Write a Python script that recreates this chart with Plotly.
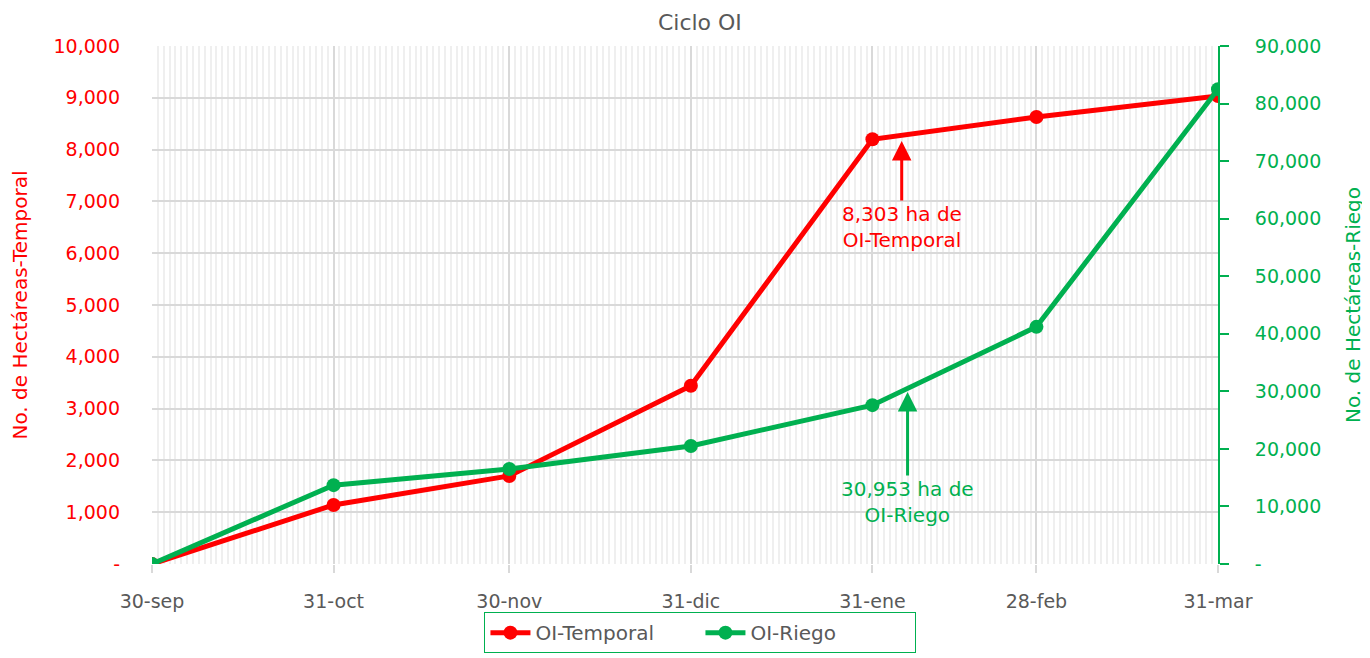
import plotly.graph_objects as go

dates = ["2024-09-30", "2024-10-31", "2024-11-30", "2024-12-31",
         "2025-01-31", "2025-02-28", "2025-03-31"]
tick_labels = ["30-sep", "31-oct", "30-nov", "31-dic", "31-ene", "28-feb", "31-mar"]
temporal = [0, 1140, 1700, 3440, 8200, 8630, 9035]
riego = [0, 13700, 16500, 20500, 27600, 41200, 82500]

left_ticks = list(range(0, 10001, 1000))
left_text = ["-"] + [f"{v:,}" for v in left_ticks[1:]]
right_ticks = list(range(0, 90001, 10000))
right_text = ["-"] + [f"{v:,}" for v in right_ticks[1:]]

RED = "#ff0000"
GREEN = "#00b050"
GRAY = "#595959"
FONT = "DejaVu Sans"
FS = 19

fig = go.Figure()
fig.add_trace(go.Scatter(x=dates, y=temporal, name="OI-Temporal", mode="lines+markers",
                         line=dict(color=RED, width=5), marker=dict(color=RED, size=14)))
fig.add_trace(go.Scatter(x=dates, y=riego, name="OI-Riego", mode="lines+markers", yaxis="y2",
                         line=dict(color=GREEN, width=5), marker=dict(color=GREEN, size=14)))

fig.add_annotation(x="2025-02-05", y=8166, xref="x", yref="y",
                   text="8,303 ha de<br>OI-Temporal", showarrow=True,
                   ax=0, ay=86, arrowhead=2, arrowsize=1.3, arrowwidth=3,
                   arrowcolor=RED, font=dict(color=RED, size=20, family=FONT))
fig.add_annotation(x="2025-02-06", y=29880, xref="x", yref="y2",
                   text="30,953 ha de<br>OI-Riego", showarrow=True,
                   ax=0, ay=110, arrowhead=2, arrowsize=1.3, arrowwidth=3,
                   arrowcolor=GREEN, font=dict(color=GREEN, size=20, family=FONT))

fig.update_layout(
    width=1362, height=650,
    margin=dict(l=144, r=152, t=38, b=94, autoexpand=False),
    paper_bgcolor="white", plot_bgcolor="white",
    font=dict(family=FONT, size=FS, color=GRAY),
    title=dict(text="Ciclo OI", x=0.508, xanchor="center", y=0.978, yanchor="middle",
               font=dict(size=22, color=GRAY, family=FONT)),
    showlegend=True,
    legend=dict(orientation="h", x=0.5145, xanchor="center", y=-0.093, yanchor="top",
                bordercolor=GREEN, borderwidth=1, font=dict(size=20, color=GRAY),
                itemwidth=40, entrywidthmode="pixels", entrywidth=160),
    xaxis=dict(type="date", range=["2024-09-30", "2025-03-31"],
               tickvals=dates, ticktext=tick_labels,
               showgrid=True, gridcolor="#d9d9d9", gridwidth=1.5,
               ticks="outside", ticklen=8, tickcolor="#d9d9d9", tickwidth=1.5,
               tickfont=dict(size=FS, color=GRAY), ticklabelstandoff=12,
               minor=dict(dtick=86400000, showgrid=True, gridcolor="#efefef", gridwidth=2),
               showline=False, zeroline=False),
    yaxis=dict(range=[0, 10000], tickvals=left_ticks, ticktext=left_text,
               showgrid=True, gridcolor="#d9d9d9", gridwidth=1.5,
               tickfont=dict(size=FS, color=RED), ticklabelstandoff=31,
               title=dict(text="No. de Hectáreas-Temporal", font=dict(size=20, color=RED),
                          standoff=30),
               showline=False, zeroline=False),
    yaxis2=dict(range=[0, 90000], tickvals=right_ticks, ticktext=right_text,
                overlaying="y", side="right", showgrid=False, zeroline=False,
                showline=True, linecolor=GREEN, linewidth=2,
                ticks="outside", ticklen=9, tickcolor=GREEN, tickwidth=2,
                tickfont=dict(size=FS, color=GREEN), ticklabelstandoff=22,
                title=dict(text="No. de Hectáreas-Riego", font=dict(size=20, color=GREEN),
                           standoff=26)),
)

fig.write_html("out.html")
